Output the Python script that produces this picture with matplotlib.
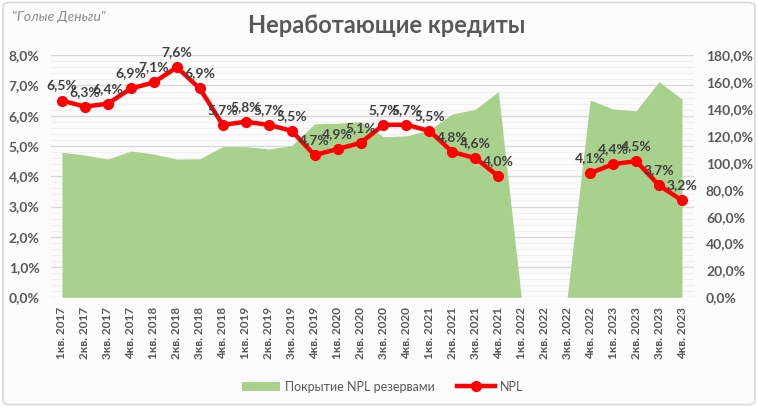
import numpy as np
import matplotlib
matplotlib.use("Agg")
import matplotlib.pyplot as plt
from matplotlib.patches import Patch, FancyBboxPatch
from matplotlib.lines import Line2D

plt.rcParams['font.family'] = ['Lato', 'DejaVu Sans']

quarters = ["1кв. 2017", "2кв. 2017", "3кв. 2017", "4кв. 2017",
            "1кв. 2018", "2кв. 2018", "3кв. 2018", "4кв. 2018",
            "1кв. 2019", "2кв. 2019", "3кв. 2019", "4кв. 2019",
            "1кв. 2020", "2кв. 2020", "3кв. 2020", "4кв. 2020",
            "1кв. 2021", "2кв. 2021", "3кв. 2021", "4кв. 2021",
            "1кв. 2022", "2кв. 2022", "3кв. 2022", "4кв. 2022",
            "1кв. 2023", "2кв. 2023", "3кв. 2023", "4кв. 2023"]

coverage = [107.8, 105.8, 102.8, 108.8, 106.5, 102.8, 103.0, 112.0,
            112.0, 110.3, 112.7, 129.0, 129.4, 130.6, 119.4, 120.0,
            124.4, 136.3, 139.8, 153.0, 0.0, 0.0, 0.0, 146.6,
            140.0, 138.7, 160.3, 147.4]

npl = [6.5, 6.3, 6.4, 6.9, 7.1, 7.6, 6.9, 5.7,
       5.8, 5.7, 5.5, 4.7, 4.9, 5.1, 5.7, 5.7,
       5.5, 4.8, 4.6, 4.0, np.nan, np.nan, np.nan, 4.1,
       4.4, 4.5, 3.7, 3.2]

left_ticks = [0, 1, 2, 3, 4, 5, 6, 7, 8]
right_ticks = [0, 20, 40, 60, 80, 100, 120, 140, 160, 180]

GREEN = "#a9d18e"
RED = "#ff0000"
TXT = "#595959"

fig = plt.figure(figsize=(7.58, 4.07), dpi=100)
fig.patch.set_facecolor("white")
fig.patches.append(FancyBboxPatch((0.004, 0.006), 0.992, 0.988, boxstyle="round,pad=0,rounding_size=0.01",
                                  transform=fig.transFigure, facecolor="#fcfcfc",
                                  edgecolor="#d9d9d9", linewidth=1.2, zorder=-10))

rect = [50.5 / 758, 1 - 297.3 / 407, (693.5 - 50.5) / 758, (297.3 - 55.2) / 407]
ax = fig.add_axes(rect)       # coverage (right scale), drawn first
ax2 = ax.twinx()              # NPL (left scale)
ax.yaxis.tick_right()
ax2.yaxis.tick_left()
ax.patch.set_alpha(0)
ax2.patch.set_alpha(0)

x = np.arange(len(quarters))
ax.set_xlim(-0.5, len(quarters) - 0.5)
ax.set_ylim(0, 180)
ax2.set_ylim(0, 8)

# gridlines (in left-axis units converted to right scale: 1% = 22.5)
scale = 180 / 8
for v in np.arange(0.2, 8.01, 0.2):
    if abs(v - round(v)) < 1e-6:
        ax.axhline(v * scale, color="#d9d9d9", lw=1.0, zorder=0)
    else:
        ax.axhline(v * scale, color="#f0f0f0", lw=0.8, zorder=0)
ax.axhline(0, color="#d9d9d9", lw=1.0, zorder=0)

ax.fill_between(x, 0, coverage, color=GREEN, lw=0, zorder=2)

ax2.plot(x, npl, color=RED, lw=3.2, marker="o", markersize=7, zorder=5)
for xi, v in zip(x, npl):
    if not np.isnan(v):
        ax2.annotate(f"{v:.1f}%".replace(".", ","), (xi, v), xytext=(0, 6.5),
                     textcoords="offset points", ha="center", va="bottom",
                     fontsize=10, fontweight="bold", color="#404040", zorder=6)

ax.set_yticks(right_ticks)
ax.set_yticklabels([f"{t:.1f}%".replace(".", ",") for t in right_ticks])
ax2.set_yticks(left_ticks)
ax2.set_yticklabels([f"{t:.1f}%".replace(".", ",") for t in left_ticks])
ax.set_xticks(x)
ax.set_xticklabels(quarters, rotation=90)

for a in (ax, ax2):
    for s in a.spines.values():
        s.set_visible(False)
    a.tick_params(length=0, colors=TXT, labelsize=10)
    for lab in a.get_yticklabels():
        lab.set_fontweight("bold")
ax.tick_params(axis="y", pad=9)
ax2.tick_params(axis="y", pad=8)
ax.tick_params(axis="x", labelsize=8.5, pad=7)
for lab in ax.get_xticklabels():
    lab.set_fontweight("bold")

fig.text(0.51, 0.938, "Неработающие кредиты", ha="center", va="center",
         fontsize=17, fontweight="bold", color=TXT)
fig.text(0.016, 0.958, "\"Голые Деньги\"", ha="left", va="center",
         fontsize=10, style="italic", color="#8c8c8c")

handles = [Patch(facecolor=GREEN, edgecolor="none"),
           Line2D([0], [0], color=RED, lw=3.2, marker="o", markersize=7)]
fig.legend(handles, ["Покрытие NPL резервами", "NPL"], loc="center",
           bbox_to_anchor=(0.505, 0.05), ncol=2, frameon=False, fontsize=9,
           labelcolor=TXT, handlelength=3.0, columnspacing=1.8, handletextpad=0.4)

fig.savefig("out.png", dpi=100, facecolor=fig.get_facecolor())
